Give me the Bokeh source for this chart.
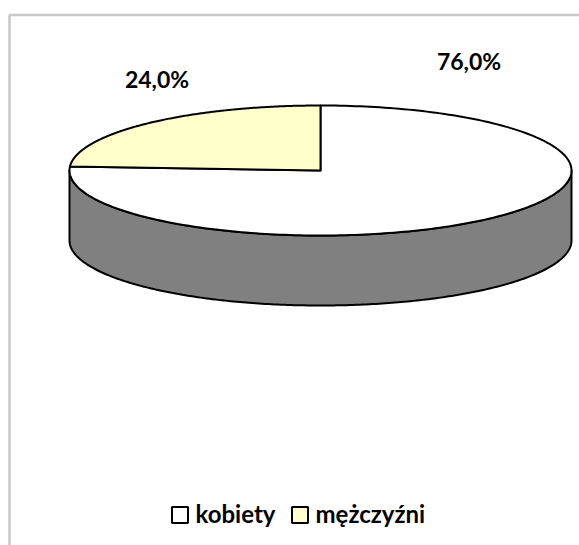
import numpy as np
from bokeh.plotting import figure
from bokeh.models import Range1d
from bokeh.core.properties import value
from bokeh.embed import file_html
from bokeh.resources import INLINE

categories = ["kobiety", "mężczyźni"]
shares = [76.0, 24.0]
colors = ["#FFFFFF", "#FFFFCC"]
labels = ["76,0%", "24,0%"]

W, H = 579, 545
p = figure(width=W, height=H, output_backend="svg", toolbar_location=None,
           x_range=Range1d(0, W), y_range=Range1d(H, 0), min_border=0,
           outline_line_color=None, background_fill_color="white", border_fill_color="white")
p.axis.visible = False
p.grid.visible = False

# chart frame (open to the right and below)
p.line([9, 9, W], [H, 14.5, 14.5], line_color="#C8C8C8", line_width=2.5)

cx, cy, rx, ry, depth = 320.0, 170.0, 251.0, 65.0, 70.0

# side wall
ang = np.linspace(np.pi / 2, 3 * np.pi / 2, 241)  # 3 o'clock via 6 o'clock to 9 o'clock
ex, ey = cx + rx * np.sin(ang), cy - ry * np.cos(ang)
p.patch(np.r_[ex, ex[::-1]], np.r_[ey, ey[::-1] + depth],
        fill_color="#808080", line_color="black", line_width=2, line_join="round")

# top slices, clockwise from 12 o'clock
start = 0.0
for share, col in zip(shares, colors):
    end = start + share / sum(shares) * 2 * np.pi
    a = np.linspace(start, end, 241)
    xs = np.r_[cx, cx + rx * np.sin(a), cx]
    ys = np.r_[cy, cy - ry * np.cos(a), cy]
    p.patch(xs, ys, fill_color=col, line_color="black", line_width=2, line_join="round")
    start = end

# data labels
lab_font = value("Lato")
p.text([468.5], [60], text=[labels[0]], text_font=lab_font, text_font_style="bold",
       text_font_size="23px", text_align="center", text_baseline="alphabetic", text_color="black")
p.text([156.5], [78], text=[labels[1]], text_font=lab_font, text_font_style="bold",
       text_font_size="23px", text_align="center", text_baseline="alphabetic", text_color="black")

# legend
box_x = [179.5, 299.5]
text_x = [195.0, 315.0]
p.rect(box_x, [514.5, 514.5], width=16, height=16, fill_color=colors, line_color="black", line_width=2)
p.text(text_x, [513, 513], text=categories, text_font=lab_font, text_font_style="bold",
       text_font_size="24px", text_baseline="alphabetic", text_color="black")

open("out.html", "w").write(file_html(p, INLINE))
